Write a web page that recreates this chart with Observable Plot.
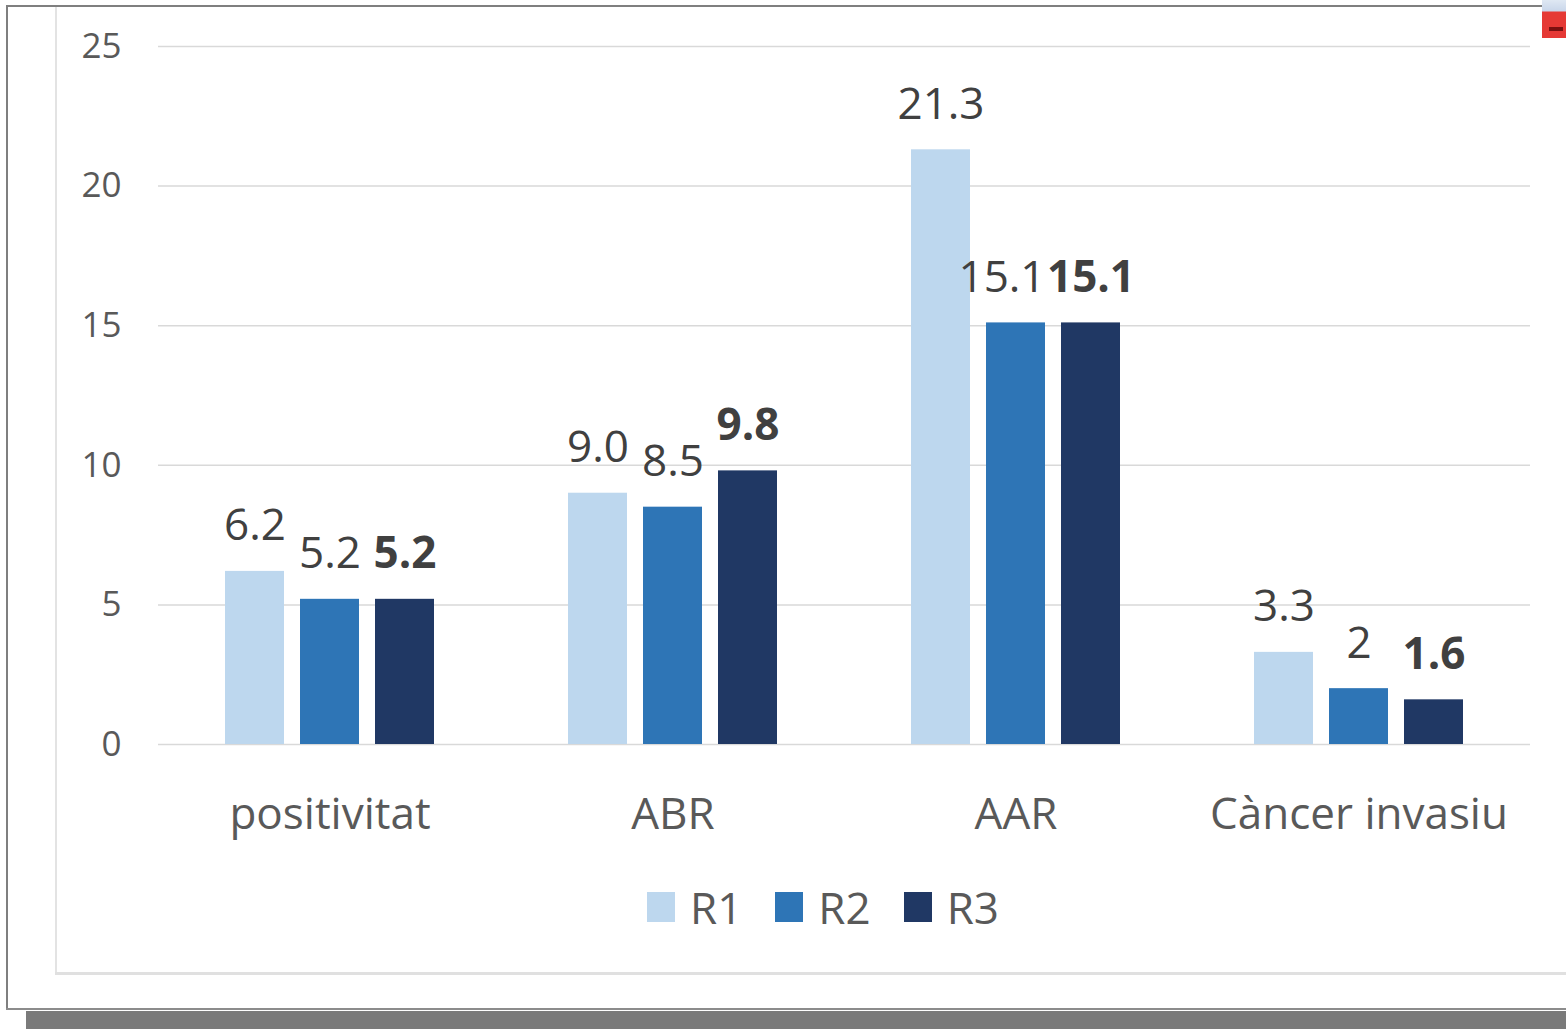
<!DOCTYPE html>
<html>
<head>
<meta charset="utf-8">
<script src="https://cdn.jsdelivr.net/npm/d3@7"></script>
<script src="https://cdn.jsdelivr.net/npm/@observablehq/plot@0.6"></script>
<style>
  html, body { margin: 0; padding: 0; background: #ffffff; }
  #page { position: relative; width: 1566px; height: 1029px; overflow: hidden; background: #ffffff; font-family: "Open Sans", sans-serif; }
  .frame-top { position: absolute; left: 6px; top: 5px; width: 1536px; height: 2px; background: #7f7f7f; }
  .frame-left { position: absolute; left: 6px; top: 5px; width: 2px; height: 1005px; background: #7f7f7f; }
  .frame-bottom { position: absolute; left: 6px; top: 1008px; width: 1560px; height: 2px; background: #8c8c8c; }
  .shadow { position: absolute; left: 26px; top: 1011px; width: 1540px; height: 18px; background: #7a7a7a; }
  .inner-left { position: absolute; left: 55px; top: 7px; width: 2px; height: 967px; background: #e3e3e3; }
  .inner-bottom { position: absolute; left: 55px; top: 972px; width: 1511px; height: 3px; background: #e0e0e0; }
  .corner-img { position: absolute; left: 1542px; top: 0px; width: 24px; height: 38px;
    background: linear-gradient(#dfe8f3 0, #c9d6ea 11px, #e53935 12px, #e53935 38px); }
  .corner-img::after { content: ""; position: absolute; left: 7px; top: 27px; width: 14px; height: 4px; background: #7a1010; }
  #chart { position: absolute; left: 0; top: 0; }
  #legend { position: absolute; left: 647px; top: 882px; height: 50px; display: flex; align-items: center; }
  .item { display: flex; align-items: center; margin-right: 33px; }
  .swatch { width: 28px; height: 30px; margin-right: 15px; }
  .label { font-size: 44px; line-height: 44px; color: #595959; }
</style>
</head>
<body>
<div id="page">
  <div class="frame-top"></div>
  <div class="frame-left"></div>
  <div class="frame-bottom"></div>
  <div class="shadow"></div>
  <div class="inner-left"></div>
  <div class="inner-bottom"></div>
  <div class="corner-img"></div>
  <div id="chart"></div>
  <div id="legend"></div>
</div>
<script>
// Categories and series of the grouped bar chart
const categories = ["positivitat", "ABR", "AAR", "Càncer invasiu"];
const series = ["R1", "R2", "R3"];
const r1 = [6.2, 9.0, 21.3, 3.3];
const r2 = [5.2, 8.5, 15.1, 2];
const r3 = [5.2, 9.8, 15.1, 1.6];
const yTicks = [0, 5, 10, 15, 20, 25];
const colors = ["#BDD7EE", "#2E75B6", "#203864"];

const seriesValues = [r1, r2, r3];
const rows = categories.flatMap((category, i) =>
  series.map((s, j) => ({category, series: s, value: seriesValues[j][i]}))
);

// R1 labels keep one decimal; the others print as given
const labelOf = d => d.series === "R1" ? d3.format(".1f")(d.value) : String(d.value);
// The R2 label of AAR sits beside the equal R3 label, so it is nudged left
const nudged = d => d.category === "AAR" && d.series === "R2";

// Facets touch each other so the gridlines run unbroken across the groups;
// the outer padding of x centres each group of bars within its facet.
const chart = Plot.plot({
  width: 1566,
  height: 860,
  marginLeft: 157,
  marginRight: 35,
  marginTop: 46,
  marginBottom: 116,
  style: {fontFamily: "'Open Sans', sans-serif", background: "transparent", overflow: "visible"},
  fx: {domain: categories, paddingInner: 0, paddingOuter: 0, label: null},
  x: {domain: series, paddingInner: 0.21, paddingOuter: 0.865, axis: null},
  y: {domain: [0, 25], label: null},
  color: {domain: series, range: colors},
  marks: [
    Plot.ruleY(yTicks, {stroke: "#d9d9d9", strokeWidth: 1.5}),
    Plot.axisY(yTicks, {tickSize: 0, tickPadding: 37, fontSize: 35, fill: "#595959", label: null}),
    Plot.axisFx({anchor: "bottom", tickSize: 0, tickPadding: 53, fontSize: 44, fill: "#595959", label: null,
      style: {letterSpacing: "1px"}}),
    Plot.barY(rows, {fx: "category", x: "series", y: "value", fill: "series"}),
    Plot.text(rows, {
      filter: d => d.series !== "R3" && !nudged(d),
      fx: "category", x: "series", y: "value", text: labelOf,
      dy: -45, lineAnchor: "middle", fontSize: 44, fill: "#404040"
    }),
    Plot.text(rows, {
      filter: nudged,
      fx: "category", x: "series", y: "value", text: labelOf,
      dx: -14, dy: -45, lineAnchor: "middle", fontSize: 44, fill: "#404040"
    }),
    Plot.text(rows, {
      filter: d => d.series === "R3",
      fx: "category", x: "series", y: "value", text: labelOf,
      dy: -45, lineAnchor: "middle", fontSize: 44, fontWeight: 700, fill: "#404040"
    })
  ]
});
document.getElementById("chart").appendChild(chart);

// Legend below the plot
const legend = d3.select("#legend");
series.forEach((s, i) => {
  const item = legend.append("div").attr("class", "item");
  item.append("div").attr("class", "swatch").style("background", colors[i]);
  item.append("div").attr("class", "label").text(s);
});
</script>
</body>
</html>
